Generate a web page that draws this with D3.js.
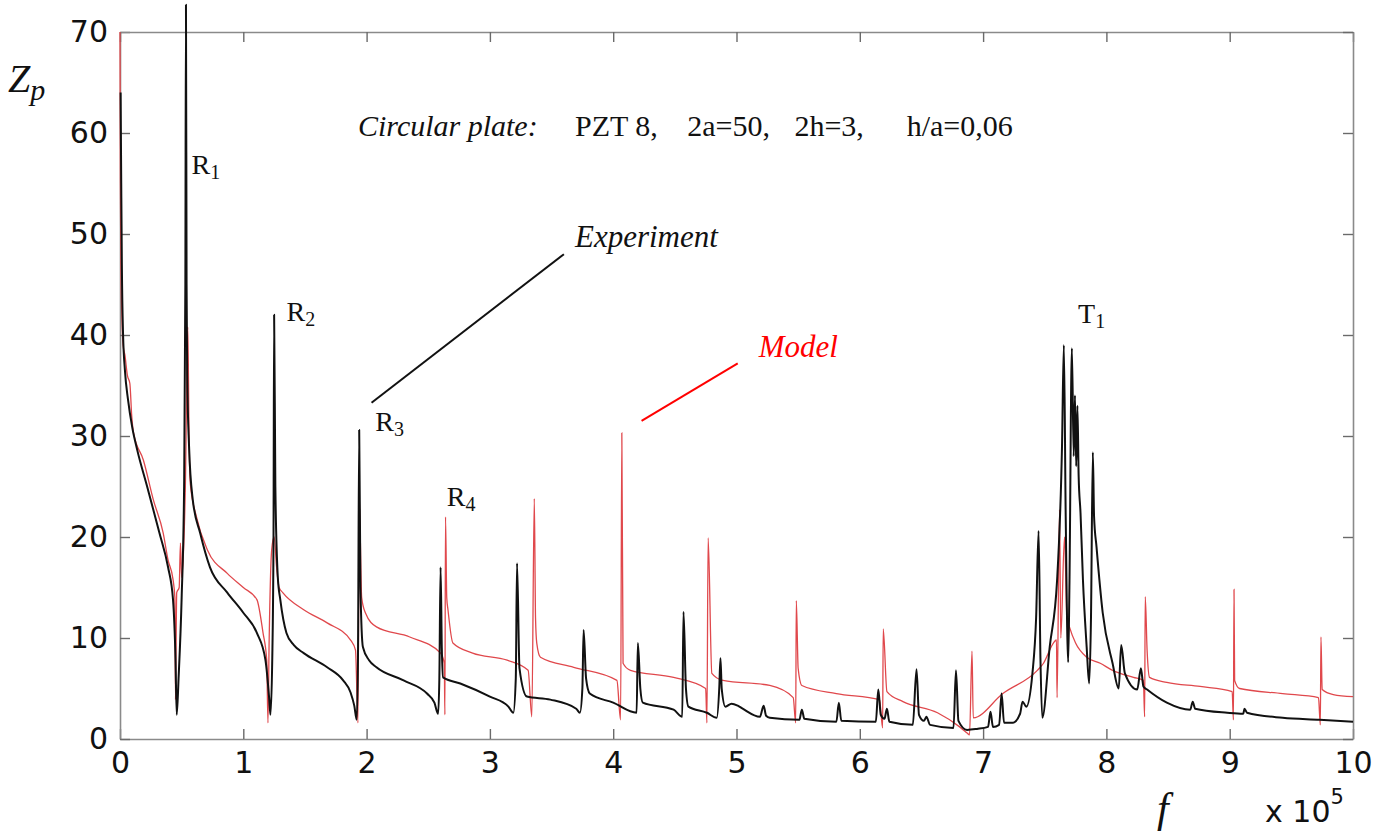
<!DOCTYPE html>
<html>
<head>
<meta charset="utf-8">
<script src="https://cdn.jsdelivr.net/npm/d3@7"></script>
<style>
    body { margin: 0; background: #fff; }
    .axis .domain { stroke: #8a8a8a; stroke-width: 1.6; }
    .axis .tick line { stroke: #6a6a6a; stroke-width: 1.4; }
    .axis .tick text { font-family: 'DejaVu Sans', sans-serif; font-size: 30px; fill: #111; }
    .serif { font-family: 'Liberation Serif', 'Times New Roman', serif; fill: #111; }
</style>
</head>
<body>
<svg id="chart" width="1391" height="832"></svg>
<script>
/**
 * Data: [frequency (x 10^5), Zp].
 */
const experiment = [
    [0.005, 64], [0.01, 55], [0.015, 47], [0.025, 40], [0.04, 36.5], [0.065, 33.6], [0.1, 30.8], [0.14, 28.6],
    [0.22, 25], [0.32, 20.4], [0.39, 17], [0.43, 13.8], [0.45, 8], [0.46, 2.4], [0.475, 6], [0.5, 14],
    [0.52, 25], [0.53, 45], [0.535, 72.7], [0.54, 45], [0.545, 36], [0.56, 29], [0.59, 23.7], [0.65, 20.4],
    [0.73, 17], [0.87, 14.5], [1.0, 12.5], [1.11, 10.5], [1.18, 7.8], [1.21, 4], [1.22, 2.4], [1.235, 8],
    [1.245, 20], [1.25, 42], [1.26, 25], [1.28, 16], [1.30, 13.8], [1.35, 10.5], [1.41, 9.3], [1.49, 8.5],
    [1.68, 7.1], [1.81, 5.8], [1.87, 4.6], [1.90, 3.3], [1.92, 1.9], [1.93, 8], [1.94, 30.6], [1.95, 15],
    [1.97, 9.1], [2.02, 7.8], [2.08, 7.1], [2.30, 5.8], [2.49, 4.5], [2.55, 3.6], [2.58, 2.5], [2.59, 6],
    [2.60, 17], [2.61, 9], [2.62, 6.1], [2.76, 5.5], [3.0, 4.2], [3.15, 3.2], [3.19, 2.6], [3.21, 6],
    [3.22, 17.4], [3.24, 7], [3.30, 4.2], [3.49, 3.9], [3.70, 3.0], [3.73, 2.6], [3.75, 5], [3.76, 10.8],
    [3.78, 6], [3.81, 4.5], [4.0, 3.6], [4.19, 2.6], [4.20, 9.5], [4.22, 5], [4.24, 3.6], [4.49, 2.9],
    [4.56, 2.2], [4.57, 12.6], [4.59, 5], [4.61, 3.2], [4.76, 2.6], [4.84, 2.1], [4.86, 5], [4.87, 8.0],
    [4.88, 5], [4.91, 3.2], [4.96, 3.5], [5.01, 3.3], [5.05, 3.0], [5.19, 2.2], [5.22, 3.3], [5.24, 2.3],
    [5.27, 2.1], [5.51, 1.9], [5.53, 2.9], [5.55, 2.0], [5.81, 1.7], [5.83, 3.6], [5.85, 1.8], [6.13, 1.7],
    [6.15, 4.9], [6.17, 2.4], [6.20, 2.0], [6.22, 3.0], [6.24, 1.7], [6.43, 1.4], [6.46, 6.9], [6.48, 2.4],
    [6.52, 1.8], [6.54, 2.2], [6.57, 1.4], [6.76, 1.1], [6.78, 6.8], [6.80, 1.8], [6.87, 0.9], [6.95, 1.0],
    [7.04, 1.2], [7.06, 2.7], [7.08, 1.2], [7.13, 1.4], [7.15, 4.5], [7.17, 1.6], [7.24, 1.6], [7.30, 2.5],
    [7.32, 3.7], [7.35, 3.2], [7.40, 6.5], [7.43, 12], [7.45, 20.6], [7.465, 8], [7.48, 2.1], [7.54, 9.1],
    [7.60, 15.7], [7.64, 29], [7.655, 39], [7.67, 22], [7.69, 7.6], [7.70, 15], [7.72, 38.7], [7.735, 28],
    [7.745, 34], [7.755, 27], [7.765, 33], [7.775, 26], [7.79, 22.4], [7.81, 15.7], [7.84, 9.1], [7.86, 5.5],
    [7.875, 12], [7.89, 28.4], [7.90, 22], [7.92, 19], [7.97, 12.5], [8.05, 7.5], [8.10, 5.0], [8.12, 9.3],
    [8.15, 6.5], [8.25, 4.9], [8.28, 7.0], [8.30, 5.2], [8.33, 4.9], [8.49, 3.6], [8.68, 2.9], [8.70, 3.7],
    [8.72, 3.0], [8.98, 2.6], [9.11, 2.5], [9.12, 3.0], [9.14, 2.6], [9.43, 2.1], [9.73, 1.9], [10.0, 1.7]
];

const model = [
    [0, 70], [0.003, 55], [0.008, 46], [0.015, 42], [0.025, 39], [0.04, 38], [0.06, 36], [0.08, 35.2],
    [0.095, 32], [0.11, 30.3], [0.19, 27.6], [0.27, 23.7], [0.35, 20.4], [0.39, 17.7], [0.43, 15.8], [0.445, 14],
    [0.45, 3.9], [0.46, 14.5], [0.48, 15], [0.49, 19.4], [0.50, 16], [0.53, 25], [0.55, 40.8], [0.56, 30],
    [0.57, 25.3], [0.62, 22], [0.71, 18.7], [0.87, 16.4], [1.0, 15.0], [1.11, 13.8], [1.16, 10.5], [1.19, 7.8],
    [1.20, 1.6], [1.21, 10], [1.23, 18.7], [1.25, 20], [1.27, 17], [1.29, 15], [1.32, 14.5], [1.49, 12.8],
    [1.68, 11.5], [1.87, 9.8], [1.91, 8.8], [1.93, 1.6], [1.94, 24], [1.96, 14], [1.99, 12.5], [2.08, 11.1],
    [2.35, 10.1], [2.6, 8.5], [2.63, 7.5], [2.635, 2.4], [2.64, 22], [2.65, 14], [2.66, 12.8], [2.70, 9.5],
    [2.86, 8.5], [3.14, 7.8], [3.31, 6.8], [3.34, 2.2], [3.36, 23.8], [3.37, 12], [3.38, 9.5], [3.41, 8.1],
    [3.68, 7.1], [4.03, 5.8], [4.06, 1.9], [4.07, 30.3], [4.08, 7.5], [4.14, 6.8], [4.49, 6.1], [4.75, 5.0],
    [4.76, 1.6], [4.77, 19.9], [4.80, 6.5], [4.89, 5.8], [5.27, 5.3], [5.46, 4.1], [5.48, 1.6], [5.485, 13.7],
    [5.50, 7.0], [5.53, 5.3], [5.81, 4.5], [6.16, 3.9], [6.185, 1.1], [6.19, 10.9], [6.22, 4.7], [6.35, 3.7],
    [6.63, 2.6], [6.81, 1.2], [6.87, 0.6], [6.89, 0.4], [6.91, 8.7], [6.92, 2.1], [7.16, 4.5], [7.44, 6.8],
    [7.49, 7.5], [7.57, 9.5], [7.595, 9.8], [7.60, 4.1], [7.62, 22.7], [7.63, 10], [7.66, 20], [7.68, 12],
    [7.70, 11.1], [7.75, 9.5], [7.84, 8.1], [7.95, 7.5], [8.05, 6.8], [8.22, 6.1], [8.30, 5.8], [8.31, 2.2],
    [8.315, 14.1], [8.33, 8.8], [8.35, 6.1], [8.49, 5.6], [8.76, 5.2], [9.02, 4.7], [9.03, 1.9], [9.035, 14.8],
    [9.04, 5.8], [9.08, 5.0], [9.43, 4.5], [9.72, 4.1], [9.735, 1.4], [9.74, 10.1], [9.75, 4.9], [9.84, 4.4],
    [10, 4.2]
];

const xTicks = d3.range(0, 11);
const yTicks = d3.range(0, 80, 10);

// Resonance labels: name, subscript, anchor in data space
const peakLabels = [
    { name: 'R', sub: '1', f: 0.58, z: 55.9 },
    { name: 'R', sub: '2', f: 1.35, z: 41.4 },
    { name: 'R', sub: '3', f: 2.07, z: 30.5 },
    { name: 'R', sub: '4', f: 2.65, z: 23.1 },
    { name: 'T', sub: '1', f: 7.77, z: 41.2 }
];

/**
 * Layout.
 */
const margin = { top: 32, right: 38, bottom: 93, left: 120 },
    svgWidth = 1391, svgHeight = 832,
    width = svgWidth - margin.left - margin.right,
    height = svgHeight - margin.top - margin.bottom;

const svg = d3.select('#chart');
const g = svg.append('g').attr('transform', 'translate(' + margin.left + ',' + margin.top + ')');

const x = d3.scaleLinear().domain([0, 10]).range([0, width]),
    y = d3.scaleLinear().domain([0, 70]).range([height, 0]);

/**
 * Frame and ticks (all pointing inward).
 */
g.append('g').attr('class', 'axis')
    .attr('transform', 'translate(0,' + height + ')')
    .call(d3.axisBottom(x).tickValues(xTicks).tickSize(-10).tickSizeOuter(0).tickPadding(13));

g.append('g').attr('class', 'axis')
    .call(d3.axisLeft(y).tickValues(yTicks).tickSize(-10).tickSizeOuter(0).tickPadding(12));

g.append('g').attr('class', 'axis')
    .call(d3.axisTop(x).tickValues(xTicks).tickSize(-10).tickSizeOuter(0).tickFormat(''));

g.append('g').attr('class', 'axis')
    .attr('transform', 'translate(' + width + ',0)')
    .call(d3.axisRight(y).tickValues(yTicks).tickSize(-10).tickSizeOuter(0).tickFormat(''));

/**
 * Curves.
 */
const line = d3.line().curve(d3.curveMonotoneX).x(d => x(d[0])).y(d => y(d[1]));

g.append('path').datum(model)
    .attr('d', line)
    .attr('fill', 'none')
    .attr('stroke', '#e0484c')
    .attr('stroke-width', 1.3);

g.append('path').datum(experiment)
    .attr('d', line)
    .attr('fill', 'none')
    .attr('stroke', '#111')
    .attr('stroke-width', 2)
    .attr('stroke-linejoin', 'round');

/**
 * Peak labels.
 */
const labels = g.selectAll('.peak').data(peakLabels).enter()
    .append('text').attr('class', 'serif peak')
    .attr('x', d => x(d.f))
    .attr('y', d => y(d.z))
    .style('font-size', '28px');
labels.append('tspan').text(d => d.name);
labels.append('tspan').attr('dy', 5).style('font-size', '20px').text(d => d.sub);

/**
 * Annotations: legend callouts and title.
 */
const callouts = [
    { text: 'Experiment', color: '#111', from: [2.04, 33.3], to: [3.6, 48.0], tx: 3.69, tz: 48.7 },
    { text: 'Model', color: '#f00', from: [4.23, 31.5], to: [5.01, 37.2], tx: 5.18, tz: 37.8 }
];

callouts.forEach(c => {
    g.append('line')
        .attr('x1', x(c.from[0])).attr('y1', y(c.from[1]))
        .attr('x2', x(c.to[0])).attr('y2', y(c.to[1]))
        .attr('stroke', c.color).attr('stroke-width', 2);
    g.append('text').attr('class', 'serif')
        .attr('x', x(c.tx)).attr('y', y(c.tz))
        .style('font-size', '31px').style('font-style', 'italic')
        .style('fill', c.color)
        .text(c.text);
});

const titleParts = [
    { text: 'Circular plate:', italic: true, f: 1.93 },
    { text: 'PZT 8,', f: 3.69 },
    { text: '2a=50,', f: 4.6 },
    { text: '2h=3,', f: 5.47 },
    { text: 'h/a=0,06', f: 6.38 }
];

g.selectAll('.title').data(titleParts).enter()
    .append('text').attr('class', 'serif title')
    .attr('x', d => x(d.f))
    .attr('y', y(59.7))
    .style('font-size', '30px')
    .style('font-style', d => d.italic ? 'italic' : 'normal')
    .text(d => d.text);

/**
 * Axis titles.
 */
const yTitle = svg.append('text').attr('class', 'serif')
    .attr('x', 8).attr('y', 92)
    .style('font-size', '40px').style('font-style', 'italic');
yTitle.append('tspan').text('Z');
yTitle.append('tspan').attr('dy', 8).style('font-size', '30px').text('p');

svg.append('text').attr('class', 'serif')
    .attr('x', 1157).attr('y', 822)
    .style('font-size', '42px').style('font-style', 'italic')
    .text('f');

const xUnit = svg.append('text')
    .attr('x', 1265).attr('y', 822)
    .style('font-family', "'DejaVu Sans', sans-serif")
    .style('font-size', '30px').style('fill', '#111');
xUnit.append('tspan').text('x 10');
xUnit.append('tspan').attr('dy', -18).style('font-size', '21px').text('5');
</script>
</body>
</html>
